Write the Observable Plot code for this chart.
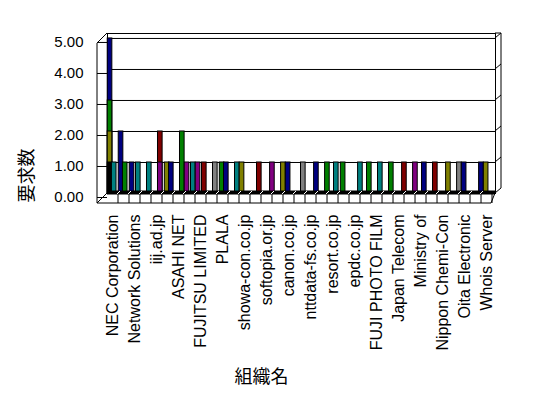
<!DOCTYPE html>
<html><head><meta charset="utf-8">
<script src="https://cdn.jsdelivr.net/npm/d3@7"></script>
<script src="https://cdn.jsdelivr.net/npm/@observablehq/plot@0.6"></script>
<style>body{margin:0;background:#fff}</style>
</head><body><div id="chart"></div>
<script>
// Category tick labels (Excel showed every other category label)
const labels = ["NEC Corporation","Network Solutions","iij.ad.jp","ASAHI NET","FUJITSU LIMITED","PLALA","showa-con.co.jp","softopia.or.jp","canon.co.jp","nttdata-fs.co.jp","resort.co.jp","epdc.co.jp","FUJI PHOTO FILM","Japan Telecom","Ministry of","Nippon Chemi-Con","Oita Electronic","Whois Server"];
const categoryCount = 35;
const yTicks = [0, 1, 2, 3, 4, 5];
const seriesColors = {navy:"#000080", green:"#008000", olive:"#808000", teal:"#008080", purple:"#800080", maroon:"#800000", gray:"#808080", black:"#000000"};
// [category index, series slot within cluster, series colour, value]
const bars = [
  [0,0,"navy",5],[0,0,"green",3],[0,0,"olive",2],[0,0,"black",1],[0,2,"teal",1],
  [1,0,"navy",2],[1,2,"green",1],
  [2,0,"navy",1],[2,3,"teal",1],
  [3,3,"teal",1],
  [4,3,"maroon",2],[4,3,"purple",1],
  [5,1,"olive",1],[5,3,"navy",1],
  [6,3,"green",2],
  [7,0,"purple",1],[7,3,"teal",1],
  [8,0,"purple",1],[8,3,"maroon",1],
  [9,3,"gray",1],
  [10,1,"green",1],[10,3,"navy",1],
  [11,3,"teal",1],
  [12,0,"olive",1],
  [13,3,"maroon",1],
  [14,4,"purple",1],
  [15,4,"olive",1],
  [16,1,"navy",1],
  [17,3,"gray",1],
  [18,4,"navy",1],
  [19,4,"green",1],
  [20,3,"teal",1],
  [21,1,"green",1],
  [22,4,"teal",1],
  [23,3,"green",1],
  [24,3,"teal",1],
  [25,3,"green",1],
  [26,4,"maroon",1],
  [27,4,"purple",1],
  [28,3,"navy",1],
  [29,3,"maroon",1],
  [30,4,"olive",1],
  [31,4,"gray",1],
  [32,1,"navy",1],
  [33,4,"navy",1],
  [34,1,"olive",1]
];
const xTitle = "組織名";
const yTitle = "要求数";

const rows = bars.map(([cat, slot, series, value]) => ({cat, slot, series, value}))
  .sort((a, b) => b.value - a.value);
const slotStep = 0.19, barW = 0.42;

// 3D box decoration (walls, floor) drawn from the scales
function box(index, scales, values, dims) {
  const {x, y} = scales;
  const L = x(0), R = x(categoryCount), T = y(5.16), B = y(0);
  const Rw = dims.width - dims.marginRight;
  const g = d3.create("svg:g").attr("fill", "none").attr("stroke", "black").attr("stroke-width", 1);
  const line = (x1, y1, x2, y2, c = "black") => g.append("line").attr("x1", x1).attr("y1", y1).attr("x2", x2).attr("y2", y2).attr("stroke", c);
  // left wall
  line(L - 10, T + 10, L - 10, B + 10);
  line(L - 10, T + 10, L, T);
  line(L - 10, B + 10, L, B);
  // floor front edge
  line(L - 10, B + 10, R - 1, B + 10);
  line(R - 1, B + 10, Rw, B);
  // cell ticks on floor front strip
  for (let i = 1; i <= categoryCount; ++i) line(x(i), B + 1, x(i), B + 10);
  // white marks in black floor strip
  for (let i = 1; i < categoryCount; ++i) line(x(i) - 1, B + 1, x(i) + 2, B - 2, "white");
  // right side
  line(Rw, T, Rw + 6, T);
  line(Rw + 6, T, Rw + 6, B - 5);
  for (const t of yTicks) line(Rw, y(t), Rw + 6, y(t) - 5);
  return g.node();
}

const chart = Plot.plot({
  width: 548, height: 398,
  marginLeft: 107, marginRight: 53, marginTop: 33, marginBottom: 205,
  x: {domain: [0, 35.27], axis: null},
  y: {domain: [0, 5.16], axis: null},
  style: {fontFamily: "'Liberation Sans', Arial, sans-serif", fontSize: "16px", background: "white", color: "black"},
  marks: [
    Plot.frame({stroke: "black"}),
    Plot.ruleY(yTicks.filter(d => d > 0), {stroke: "black"}),
    Plot.rect(rows, {
      x1: d => d.cat + 0.02 + d.slot * slotStep,
      x2: d => d.cat + 0.02 + d.slot * slotStep + barW,
      y1: 0, y2: "value",
      fill: d => seriesColors[d.series], stroke: "black", strokeWidth: 1
    }),
    Plot.ruleY([0], {stroke: "black", strokeWidth: 4, dy: -1}),
    box,
    Plot.axisY(yTicks, {anchor: "left", tickSize: 10, tickPadding: 14, tickFormat: d => d.toFixed(2), dy: 4, fontSize: 15, label: null}),
    Plot.text(labels, {x: (d, i) => 2 * i + 0.5, y: 0, text: d => d, rotate: -90, textAnchor: "end", dy: 21, fontSize: 16}),
    Plot.text([xTitle], {frameAnchor: "bottom", dx: -40, dy: 189, fontSize: 18, fontFamily: "'Noto Sans CJK JP', sans-serif"}),
    Plot.text([yTitle], {frameAnchor: "left", rotate: -90, dx: -80, dy: 89, fontSize: 18, fontFamily: "'Noto Sans CJK JP', sans-serif"})
  ]
});
document.getElementById("chart").append(chart);
</script>
</body></html>
